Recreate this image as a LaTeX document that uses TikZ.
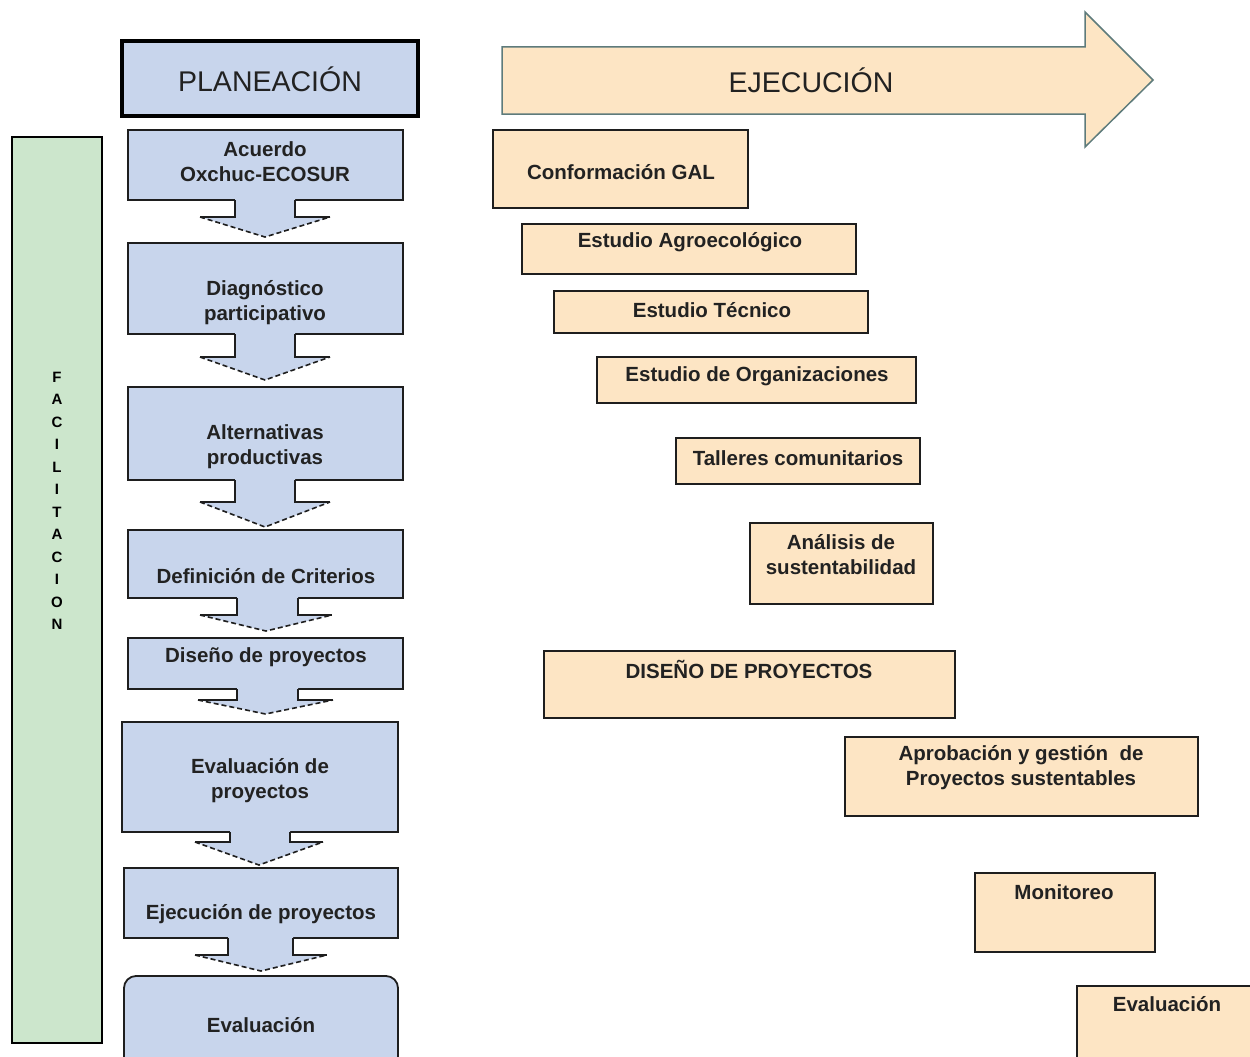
\documentclass[tikz,border=0pt]{standalone}
\usepackage{fontspec}
\setmainfont{Liberation Sans}
\definecolor{bluefill}{HTML}{C8D5EC}
\definecolor{peach}{HTML}{FDE5C4}
\definecolor{greenfill}{HTML}{CCE6CC}
\definecolor{edge}{HTML}{1E1E1E}
\definecolor{arrowedge}{HTML}{5E7B7B}
\definecolor{txt}{HTML}{222222}
\tikzset{
  bluebox/.style={fill=bluefill, draw=edge, line width=1.8pt},
  titlebox/.style={fill=bluefill, draw=black, line width=3.5pt},
  peachbox/.style={fill=peach, draw=edge, line width=1.8pt},
  greenbox/.style={fill=greenfill, draw=black, line width=1.8pt},
  bigarrow/.style={fill=peach, draw=arrowedge, line width=1.5pt, line join=miter},
  btxt/.style={inner sep=0pt, align=center, text=txt, font=\fontsize{20.5}{25}\selectfont\bfseries},
  bigtxt/.style={inner sep=0pt, text=txt, font=\fontsize{28.5}{30}\selectfont},
  factxt/.style={inner sep=0pt, align=center, text=black, font=\fontsize{15}{22.5}\selectfont\bfseries},
  arrowfill/.style={fill=bluefill, draw=none},
  arrowsolid/.style={draw=edge, line width=1.6pt},
  arrowdash/.style={draw=edge, line width=1.6pt, dash pattern=on 5pt off 3pt}
}
% down block arrow: #1 stem left, #2 stem right, #3 head left, #4 head right, #5 top, #6 shoulder, #7 tip y
\newcommand{\blockdown}[7]{%
  \path[arrowfill] (#1,#5-2) -- (#1,#6) -- (#3,#6) -- ({(#3+#4)/2},#7) -- (#4,#6) -- (#2,#6) -- (#2,#5-2) -- cycle;
  \draw[arrowsolid] (#1,#5) -- (#1,#6) -- (#3,#6);
  \draw[arrowsolid] (#2,#5) -- (#2,#6) -- (#4,#6);
  \draw[arrowdash] (#3,#6) -- ({(#3+#4)/2},#7) -- (#4,#6);
}
\begin{document}
\begin{tikzpicture}[x=1pt, y=-1pt]
\useasboundingbox (0,0) rectangle (1250,1057);
\clip (0,0) rectangle (1250,1057);
\fill[white] (0,0) rectangle (1250,1057);

% FACILITACION column
\draw[greenbox] (12,137) rectangle (102,1043);
\node[factxt] (fac) at (57,501) {F\\A\\C\\I\\L\\I\\T\\A\\C\\I\\O\\N};

% planning column
\draw[titlebox] (122,41) rectangle (418,116);
\node[bigtxt] (plan) at (270,79) {PLANEACIÓN};

\draw[bluebox] (128,130) rectangle (403,200);
\draw[bluebox] (128,243) rectangle (403,334);
\draw[bluebox] (128,387) rectangle (403,480);
\draw[bluebox] (128,530) rectangle (403,598);
\draw[bluebox] (128,638) rectangle (403,689);
\draw[bluebox] (122,722) rectangle (398,832);
\draw[bluebox] (124,868) rectangle (398,938);
\draw[bluebox, rounded corners=12pt] (124,1070) -- (124,976) -- (398,976) -- (398,1070);

\blockdown{235}{295}{200}{330}{200}{217}{237}
\blockdown{235}{295}{200}{330}{334}{357}{380}
\blockdown{235}{295}{200}{330}{480}{502}{527}
\blockdown{237}{298}{200}{332}{598}{615}{631}
\blockdown{237}{298}{198}{333}{689}{700}{714}
\blockdown{230}{290}{195}{323}{832}{842}{865}
\blockdown{228}{293}{195}{327}{938}{955}{971}

\node[btxt] (p1) at (265,162) {Acuerdo\\Oxchuc-ECOSUR};
\node[btxt] (p2) at (265,303) {Diagnóstico\\participativo};
\node[btxt] (p3) at (265,447) {Alternativas\\productivas};
\node[btxt] (p4) at (266,576) {Definición de Criterios};
\node[btxt] (p5) at (266,657) {Diseño de proyectos};
\node[btxt] (p6) at (260,781) {Evaluación de\\proyectos};
\node[btxt] (p7) at (261,914) {Ejecución de proyectos};
\node[btxt] (p8) at (261,1025) {Evaluación};

% execution arrow
\draw[bigarrow] (502,47) -- (1085,47) -- (1085,12) -- (1153,80) -- (1085,147) -- (1085,114) -- (502,114) -- cycle;
\node[bigtxt] (ejec) at (811,80) {EJECUCIÓN};

% execution boxes
\draw[peachbox] (493,130) rectangle (748,208);
\draw[peachbox] (522,224) rectangle (856,274);
\draw[peachbox] (554,291) rectangle (868,333);
\draw[peachbox] (597,357) rectangle (916,403);
\draw[peachbox] (676,438) rectangle (920,484);
\draw[peachbox] (750,523) rectangle (933,604);
\draw[peachbox] (544,651) rectangle (955,718);
\draw[peachbox] (845,737) rectangle (1198,816);
\draw[peachbox] (975,873) rectangle (1155,952);
\fill[peach] (1077,986) rectangle (1260,1070);
\draw[edge, line width=1.8pt] (1077,1070) -- (1077,986) -- (1260,986);

\node[btxt] (e1) at (621,172) {Conformación GAL};
\node[btxt] (e2) at (690,242) {Estudio Agroecológico};
\node[btxt] (e3) at (712,310) {Estudio Técnico};
\node[btxt] (e4) at (757,376) {Estudio de Organizaciones};
\node[btxt] (e5) at (798,458) {Talleres comunitarios};
\node[btxt] (e6) at (841,555) {Análisis de\\sustentabilidad};
\node[btxt] (e7) at (749,669) {DISEÑO DE PROYECTOS};
\node[btxt] (e8) at (1021,768) {Aprobación y gestión\ \ de\\Proyectos sustentables};
\node[btxt] (e9) at (1064,892) {Monitoreo};
\node[btxt] (e10) at (1167,1004) {Evaluación};
\end{tikzpicture}
\end{document}
